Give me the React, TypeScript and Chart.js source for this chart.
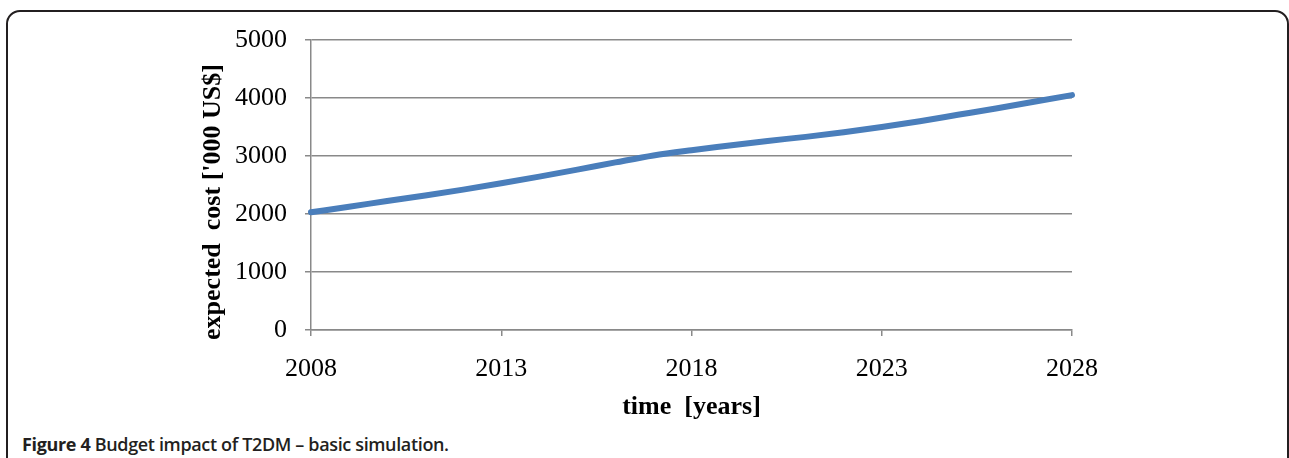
import React, { useEffect, useRef } from "react";
import { Chart, registerables } from "chart.js";

Chart.register(...registerables);

// ---- data ----
const years = [2008, 2009, 2010, 2011, 2012, 2013, 2014, 2015, 2016, 2017, 2018, 2019, 2020, 2021, 2022, 2023, 2024, 2025, 2026, 2027, 2028];
const expectedCost = [2030, 2125, 2225, 2320, 2420, 2530, 2645, 2765, 2890, 3010, 3100, 3180, 3260, 3330, 3410, 3500, 3600, 3710, 3820, 3935, 4050];
const xTickValues = [2008, 2013, 2018, 2023, 2028];
const yTickValues = [0, 1000, 2000, 3000, 4000, 5000];
const xTitle = "time  [years]";
const yTitle = "expected  cost ['000 US$]";
const captionLabel = "Figure 4";
const captionText = " Budget impact of T2DM \u2013 basic simulation.";

const GRID = "#898989";
const SERIF = '"Liberation Serif", "Times New Roman", serif';

const axisTitlePlugin = {
  id: "axisTitlePlugin",
  afterDraw(chart: any) {
    const { ctx, chartArea } = chart;
    ctx.save();
    ctx.font = `bold 26px ${SERIF}`;
    ctx.fillStyle = "#000";
    ctx.textAlign = "center";
    ctx.textBaseline = "middle";
    ctx.fillText(xTitle, (chartArea.left + chartArea.right) / 2, chartArea.bottom + 77);
    ctx.translate(chartArea.left - 98, (chartArea.top + chartArea.bottom) / 2 + 17);
    ctx.rotate(-Math.PI / 2);
    ctx.fillText(yTitle, 0, 0);
    ctx.restore();
  },
};

function CostChart() {
  const ref = useRef<HTMLCanvasElement | null>(null);
  useEffect(() => {
    if (!ref.current) return;
    const chart = new Chart(ref.current, {
      type: "line",
      data: {
        datasets: [
          {
            data: years.map((y, i) => ({ x: y, y: expectedCost[i] })),
            borderColor: "#4a7ebb",
            borderWidth: 6,
            borderCapStyle: "round",
            borderJoinStyle: "round",
            pointRadius: 0,
            tension: 0.4,
            cubicInterpolationMode: "monotone",
            fill: false,
            clip: false as any,
          },
        ],
      },
      plugins: [axisTitlePlugin],
      options: {
        animation: false,
        responsive: false,
        devicePixelRatio: 1,
        layout: { padding: { top: 40, right: 217, left: 0, bottom: 0 } },
        plugins: { legend: { display: false }, tooltip: { enabled: false } },
        scales: {
          x: {
            type: "linear",
            min: xTickValues[0],
            max: xTickValues[xTickValues.length - 1],
            afterBuildTicks: (s: any) => {
              s.ticks = xTickValues.map((v) => ({ value: v }));
            },
            afterFit: (s: any) => {
              s.height = 100;
            },
            ticks: {
              font: { family: SERIF, size: 26 },
              color: "#000",
              padding: 18,
              maxRotation: 0,
              callback: (v: any) => String(v),
            },
            grid: { drawOnChartArea: false, drawTicks: true, tickLength: 6, color: GRID, lineWidth: 1.5 },
            border: { display: true, color: GRID, width: 1.5 },
          },
          y: {
            type: "linear",
            min: yTickValues[0],
            max: yTickValues[yTickValues.length - 1],
            afterBuildTicks: (s: any) => {
              s.ticks = yTickValues.map((v) => ({ value: v }));
            },
            afterFit: (s: any) => {
              s.width = 311;
            },
            ticks: {
              font: { family: SERIF, size: 26 },
              color: "#000",
              padding: 18,
              callback: (v: any) => String(v),
            },
            grid: { color: GRID, lineWidth: 1.5, tickLength: 6 },
            border: { display: true, color: GRID, width: 1.5 },
          },
        },
      } as any,
    });
    return () => chart.destroy();
  }, []);
  return <canvas ref={ref} width={1289} height={430} style={{ position: "absolute", left: 0, top: 0 }} />;
}

export default function App() {
  return (
    <div style={{ position: "fixed", left: 0, top: 0, width: 1289, height: 458, background: "#fff", overflow: "hidden" }}>
      <div
        style={{
          position: "absolute",
          left: 6,
          top: 10,
          width: 1283,
          height: 700,
          boxSizing: "border-box",
          border: "2px solid #231f20",
          borderRadius: 14,
        }}
      />
      <CostChart />
      <div
        style={{
          position: "absolute",
          left: 22,
          top: 432,
          fontFamily: '"Open Sans", "Noto Sans", sans-serif',
          fontWeight: 700,
          fontSize: 18,
          color: "#231f20",
          whiteSpace: "nowrap",
          letterSpacing: -0.35,
        }}
      >
        <span>{captionLabel}</span>
        <span style={{ fontWeight: 600 }}>{captionText}</span>
      </div>
    </div>
  );
}
